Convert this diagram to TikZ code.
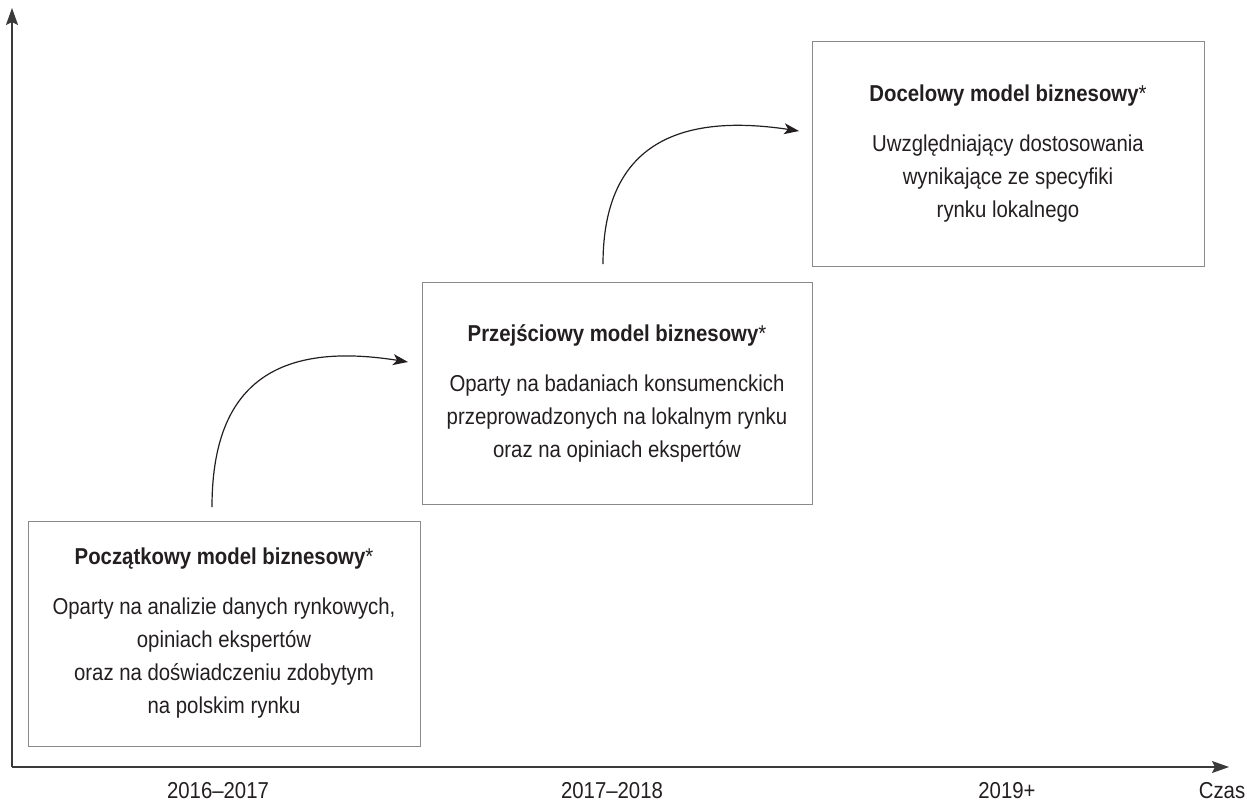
\documentclass[tikz,border=0pt]{standalone}
\usepackage{fontspec}
\setmainfont[FakeStretch=0.885]{Liberation Sans}
\usetikzlibrary{arrows.meta}
\definecolor{txt}{HTML}{231F20}
\definecolor{boxline}{HTML}{8A8A8A}
\definecolor{axisline}{HTML}{3A3A3A}
\tikzset{
  stage/.style={draw=boxline, line width=1pt, minimum width=#1, inner sep=0pt},
  stagetext/.style={text=txt, align=center, inner sep=0pt, font=\fontsize{23}{33}\selectfont},
  yearlbl/.style={text=txt, font=\fontsize{23}{26}\selectfont, inner sep=0pt},
  axis/.style={draw=axisline, line width=1.3pt, -{Stealth[length=17pt,width=12pt,inset=3pt]}},
  flow/.style={draw=txt, line width=1.2pt, -{Stealth[length=15pt,width=11pt,inset=4pt]}}
}
\begin{document}
\begin{tikzpicture}[x=1pt,y=-1pt]
\useasboundingbox (0,0) rectangle (1247,806);
\coordinate (origin) at (12,767);
\coordinate (ytop) at (12,8);
\coordinate (xend) at (1229,767);
\draw[axis] (origin) -- (ytop);
\draw[axis] (origin) -- (xend);

\node[stage=392pt, minimum height=225pt] (b1) at (224,633.5) {};
\node[stage=390pt, minimum height=222pt] (b2) at (617,393) {};
\node[stage=392pt, minimum height=225pt] (b3) at (1008,153.5) {};

\node[stagetext] (t1) at (b1.center)
 {\textbf{Początkowy model biznesowy}*\\[17pt]Oparty na analizie danych rynkowych,\\opiniach ekspertów\\oraz na doświadczeniu zdobytym\\na polskim rynku};
\node[stagetext] (t2) at (b2.center)
 {\textbf{Przejściowy model biznesowy}*\\[17pt]Oparty na badaniach konsumenckich\\przeprowadzonych na lokalnym rynku\\oraz na opiniach ekspertów};
\node[stagetext] (t3) at (b3.center)
 {\textbf{Docelowy model biznesowy}*\\[17pt]Uwzględniający dostosowania\\wynikające ze specyfiki\\rynku lokalnego};

\coordinate (a1s) at (212,507);
\coordinate (a1e) at (408,362);
\coordinate (a2s) at (603,264);
\coordinate (a2e) at (799,131);
\draw[flow] (a1s) .. controls (212,390) and (270,340) .. (a1e);
\draw[flow] (a2s) .. controls (603,160) and (660,110) .. (a2e);

\node[yearlbl] (y1) at (218,791) {2016–2017};
\node[yearlbl] (y2) at (612,791) {2017–2018};
\node[yearlbl] (y3) at (1007,791) {2019+};
\node[yearlbl] (cz) at (1222,791) {Czas};
\end{tikzpicture}
\end{document}
